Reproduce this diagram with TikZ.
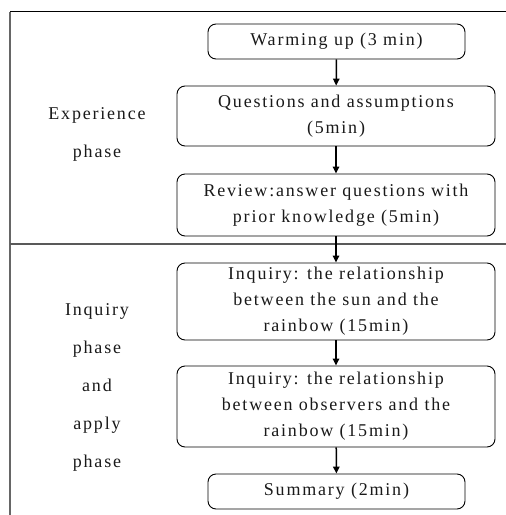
\documentclass[tikz,border=0pt]{standalone}
\usepackage{fontspec}
\setmainfont{Liberation Serif}[LetterSpace=10]
\usetikzlibrary{arrows.meta}
\tikzset{
  stagebox/.style={draw=black, line width=0.9pt, rounded corners=8pt, inner sep=0pt,
    align=center, font=\fontsize{18}{26}\selectfont, text=black!90},
  phaselabel/.style={align=center, inner sep=0pt, font=\fontsize{18}{38}\selectfont, text=black!90},
  flow/.style={line width=1.5pt, -{Triangle[length=7pt,width=6.5pt]}},
  frameline/.style={line width=1.2pt, draw=black!65}
}
\begin{document}
\begin{tikzpicture}[x=1pt,y=-1pt]
\useasboundingbox (0,0) rectangle (506,515);
% frame
\coordinate (tl) at (10,11.5);
\coordinate (tr) at (506,11.5);
\coordinate (bl) at (10,515);
\coordinate (ml) at (10,244);
\coordinate (mr) at (506,244);
\draw[line width=0.9pt, black] (tl) -- (tr);
\draw[line width=1.8pt, draw=black!60] (tl) -- (bl);
\draw[frameline] (ml) -- (mr);
% boxes
\node[stagebox, minimum width=257pt, minimum height=35pt] (b1) at (336.5,41.5) {Warming up (3 min)};
\node[stagebox, minimum width=318pt, minimum height=60pt] (b2) at (336,116) {Questions and assumptions\\(5min)};
\node[stagebox, minimum width=318pt, minimum height=62pt] (b3) at (336,205) {Review:answer questions with\\prior knowledge (5min)};
\node[stagebox, minimum width=318pt, minimum height=77pt] (b4) at (336,301.5) {Inquiry: the relationship\\between the sun and the\\rainbow (15min)};
\node[stagebox, minimum width=318pt, minimum height=81pt] (b5) at (336,406.5) {Inquiry: the relationship\\between observers and the\\rainbow (15min)};
\node[stagebox, minimum width=257pt, minimum height=35pt] (b6) at (336.5,491.5) {Summary (2min)};
% arrows
\draw[flow] (b1) -- (b2);
\draw[flow] (b2) -- (b3);
\draw[flow] (b3) -- (b4);
\draw[flow] (b4) -- (b5);
\draw[flow] (b5) -- (b6);
% phase labels
\node[phaselabel] (p1) at (97,134) {Experience\\phase};
\node[phaselabel] (p2) at (97,387) {Inquiry\\phase\\and\\apply\\phase};
\end{tikzpicture}
\end{document}
